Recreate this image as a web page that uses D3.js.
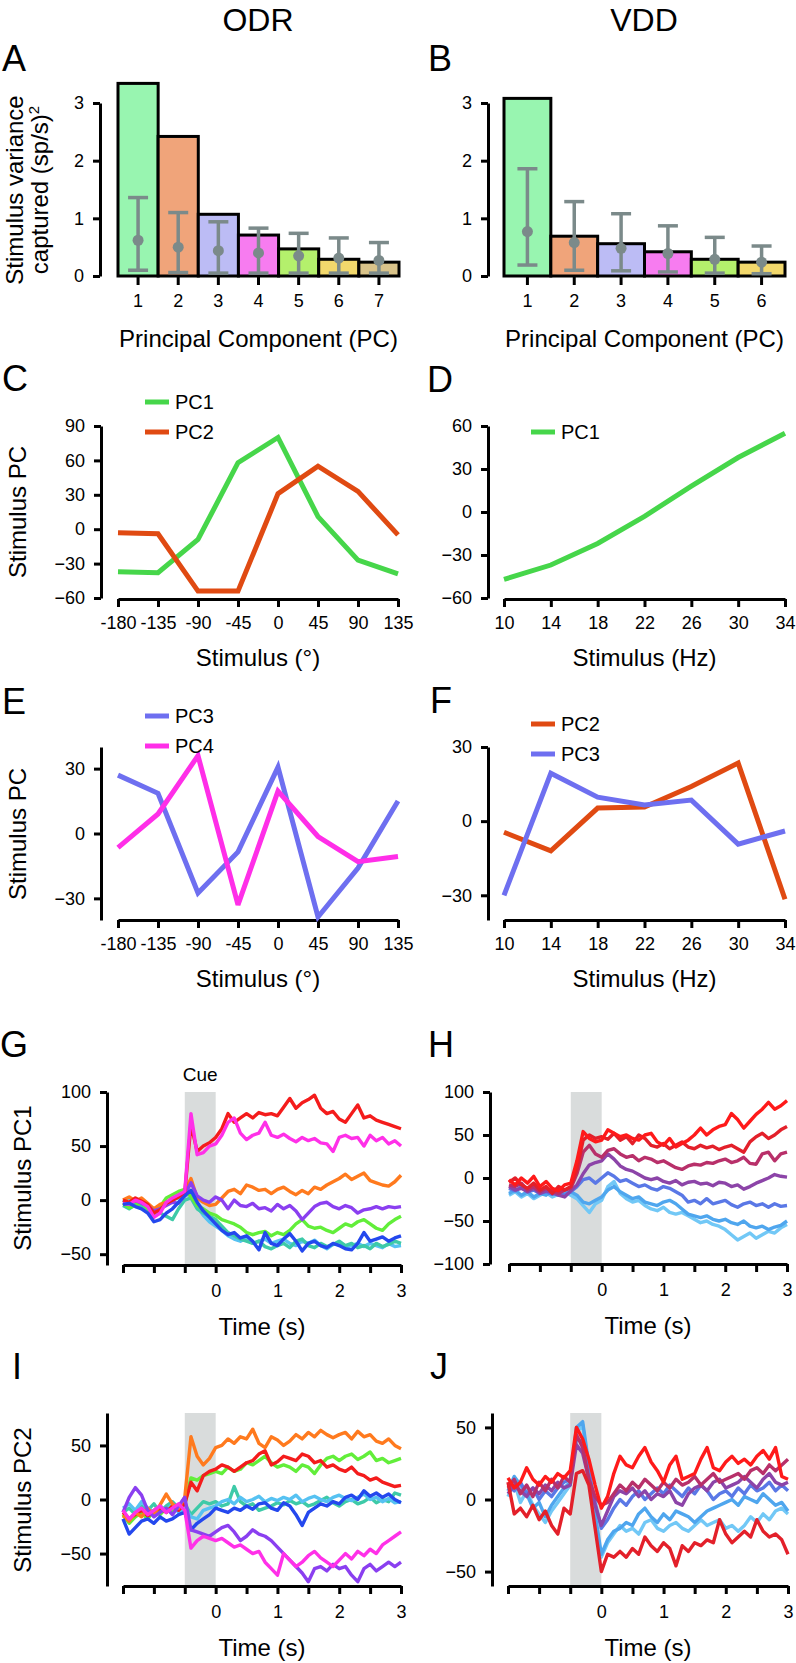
<!DOCTYPE html>
<html><head><meta charset="utf-8">
<script src="https://cdn.jsdelivr.net/npm/d3@7"></script>
<style>body{margin:0;background:#fff;} svg{display:block;}</style>
</head><body><svg id="c" width="796" height="1663"></svg>
<script>
// ---------- DATA ----------
const barColors = ["#98f5b0","#f0a47a","#bcbcf5","#f77cf0","#b4f06c","#f2d86c","#d9c38a"];
const pcA = [1,2,3,4,5,6,7];
const varA = [3.34,2.42,1.07,0.71,0.47,0.29,0.24];
const nullMeanA = [0.62,0.50,0.44,0.40,0.35,0.31,0.27];
const nullLoA = [0.10,0.06,0.05,0.05,0.05,0.05,0.05];
const nullHiA = [1.36,1.10,0.94,0.83,0.74,0.66,0.58];
const pcB = [1,2,3,4,5,6];
const varB = [3.08,0.69,0.56,0.42,0.29,0.24];
const nullMeanB = [0.77,0.58,0.48,0.39,0.29,0.24];
const nullLoB = [0.19,0.10,0.09,0.07,0.05,0.04];
const nullHiB = [1.86,1.29,1.08,0.87,0.67,0.52];

const odrStim = [-180,-135,-90,-45,0,45,90,135];
const odrPC1 = [-37,-38,-9,58,80,11,-27,-39];
const odrPC2 = [-3,-4,-54,-54,31,55,33,-5];
const odrPC3 = [27,18.6,-27.5,-8.5,30.7,-38.6,-16,15];
const odrPC4 = [-6.5,9,36,-33,19.6,-1.4,-13,-10.6];
const vddStim = [10,14,18,22,26,30,34];
const vddPC1 = [-47,-37,-22,-3,18,38,55];
const vddPC2 = [-4.5,-12,5.3,5.7,14,23.5,-31.6];
const vddPC3 = [-30,19.4,9.7,6.5,8.5,-9.3,-4];

const time = [-1.5,-1.4,-1.3,-1.2,-1.1,-1.0,-0.9,-0.8,-0.7,-0.6,-0.5,-0.4,-0.3,-0.2,-0.1,0,0.1,0.2,0.3,0.4,0.5,0.6,0.7,0.8,0.9,1.0,1.1,1.2,1.3,1.4,1.5,1.6,1.7,1.8,1.9,2.0,2.1,2.2,2.3,2.4,2.5,2.6,2.7,2.8,2.9,3.0];
const timeTicks = [-1.5,-1,-0.5,0,0.5,1,1.5,2,2.5,3];
const cueWindow = [-0.5,0];

// G: ODR stimulus PC1 trajectories
const gLightBlue = [-2,2,-3,0,-6,-12,-8,-4,0,2,4,6,-6,-14,-20,-24,-28,-33,-36,-38,-35,-40,-38,-36,-40,-38,-36,-40,-42,-38,-40,-37,-42,-45,-41,-40,-44,-42,-40,-43,-40,-42,-44,-40,-43,-42];
const gTeal = [-5,-8,-4,-6,-10,-14,-12,-15,-18,-8,0,2,-8,-12,-15,-18,-24,-30,-33,-36,-38,-40,-38,-43,-45,-42,-40,-44,-38,-36,-42,-44,-40,-43,-41,-38,-42,-40,-44,-42,-45,-40,-43,-41,-38,-40];
const gGreen = [-3,-7,-5,-2,-8,-12,-6,2,5,8,10,3,-5,-8,-12,-14,-18,-20,-22,-25,-30,-32,-30,-29,-33,-30,-32,-28,-22,-18,-24,-26,-25,-28,-30,-26,-22,-24,-20,-18,-22,-26,-28,-22,-18,-15];
const gOrange = [0,3,-1,2,-3,-8,-4,-2,1,3,8,20,2,-2,-5,-4,2,8,10,6,14,12,9,10,6,10,12,8,5,9,6,12,10,14,17,20,24,19,22,25,18,16,14,13,17,23];
const gPurple = [-2,-4,0,-3,-5,-10,-8,-5,-2,-3,5,16,4,0,-2,3,0,-8,0,-5,-6,-3,-8,-7,-10,-4,-8,-5,-10,-18,-12,-6,-3,-2,-6,-8,-5,-7,-12,-9,-8,-6,-8,-6,-7,-6];
const gRed = [0,-2,2,-1,-4,-12,-9,-3,0,3,7,70,45,50,53,58,66,80,72,76,80,76,81,79,80,78,86,94,85,90,93,97,85,80,82,75,72,80,88,76,78,74,72,70,68,66];
const gMagenta = [-3,-4,0,-2,-6,-16,-12,-2,2,5,8,80,42,44,50,52,60,72,76,62,56,60,62,72,60,58,61,57,54,58,55,57,53,52,45,58,60,57,58,50,60,55,58,52,55,50];
const gBlue = [-4,-3,-6,-8,-12,-20,-18,-12,-8,-2,4,9,-2,-10,-16,-22,-28,-32,-30,-35,-33,-38,-46,-30,-40,-42,-36,-31,-38,-47,-40,-38,-42,-44,-40,-42,-45,-46,-40,-30,-38,-36,-34,-38,-35,-33];

// H: VDD stimulus PC1 trajectories
const h1 = [-2,-8,0,-6,2,-10,-4,-12,-15,-8,-6,20,54,46,42,44,56,52,48,50,46,44,50,52,42,38,46,36,40,44,50,58,50,56,60,62,75,68,58,66,74,80,88,80,84,90];
const h2 = [-5,0,-8,-12,-6,-14,-10,-18,-10,-14,-10,10,44,50,46,48,45,52,44,48,40,50,46,38,36,40,34,38,42,36,34,38,35,37,33,36,38,34,30,42,48,52,46,50,56,60];
const h3 = [-8,-10,-6,-14,-10,-16,-12,-15,-18,-14,-12,5,30,38,28,24,32,34,28,24,26,20,24,22,18,20,16,12,10,14,16,15,18,17,20,22,18,20,24,17,16,28,30,20,28,30];
const h4 = [-10,-14,-12,-16,-12,-18,-15,-17,-20,-22,-15,-8,5,15,18,20,28,22,14,10,8,4,0,-2,0,-4,-6,-3,-8,-5,-4,-7,-6,-9,-5,-6,-10,-8,-13,-10,-6,-3,0,4,2,1];
const h5 = [-12,-15,-10,-16,-14,-18,-16,-19,-17,-20,-16,-10,-2,0,-6,0,6,2,-4,-2,-6,-10,-8,-12,-14,-10,-12,-16,-20,-28,-26,-30,-24,-30,-28,-26,-31,-34,-30,-28,-32,-30,-34,-30,-33,-32];
const h6 = [-18,-14,-20,-16,-22,-18,-20,-15,-20,-18,-16,-20,-28,-30,-26,-22,-14,-10,-16,-20,-24,-22,-28,-30,-32,-28,-26,-30,-36,-42,-44,-46,-44,-48,-50,-48,-52,-54,-50,-56,-58,-56,-60,-57,-55,-50];
const h7 = [-20,-16,-22,-18,-24,-20,-17,-22,-19,-16,-20,-24,-32,-40,-30,-26,-10,-4,-18,-24,-28,-26,-32,-36,-38,-34,-40,-42,-40,-44,-48,-52,-50,-54,-56,-60,-66,-72,-68,-64,-70,-66,-62,-64,-58,-54];

// I: ODR stimulus PC2 trajectories
const iOrange = [-15,-20,-12,-16,-8,-14,-5,5,-4,-8,2,58,40,32,38,48,50,56,52,58,56,65,52,48,58,55,50,54,60,56,62,58,64,60,57,60,62,56,63,58,60,54,52,56,50,47];
const iRed = [-12,-18,-14,-10,-15,-12,-8,-12,-6,-10,-4,16,8,22,26,28,32,30,26,30,34,36,42,45,32,35,40,38,36,42,40,34,36,30,32,28,26,30,24,22,18,20,16,14,12,13];
const iGreen = [-14,-22,-16,-12,-18,-10,-14,-8,-12,-6,-4,20,18,22,24,26,24,30,26,28,34,32,36,40,34,30,32,30,26,32,30,24,32,38,40,36,40,42,37,40,44,36,38,34,36,38];
const iTeal = [-12,-8,-14,-6,-10,-4,-12,-6,-2,-8,-4,-14,-8,-2,-4,-2,-6,-4,12,-2,-6,-4,-10,-8,-6,-3,-5,-1,-4,-2,-6,-4,-1,2,-3,-6,-2,0,-4,-2,2,-3,0,-2,6,4];
const iLightBlue = [-8,-4,-10,-2,-8,-12,-6,-10,-4,-12,-8,-16,-18,-10,-8,-6,-2,0,-4,2,-2,0,3,-2,1,-1,2,0,4,-2,1,3,0,-2,2,4,1,-1,2,5,0,2,-2,1,-3,-2];
const iBlue = [-18,-32,-26,-20,-18,-22,-16,-20,-18,-14,-12,-28,-22,-18,-14,-8,-10,-12,-8,-10,-6,-9,-4,-3,-8,-10,-3,-6,-14,-24,-12,-8,-4,-6,-2,-4,2,4,0,8,3,6,2,5,0,-3];
const iMagenta = [-10,-18,-12,-8,-14,-10,-6,-12,-8,-4,-10,-45,-38,-34,-36,-38,-36,-40,-44,-42,-46,-50,-48,-58,-64,-70,-50,-56,-62,-58,-52,-48,-54,-58,-62,-56,-50,-55,-48,-52,-46,-50,-42,-38,-34,-30];
const iPurple = [-12,2,11,4,-10,-16,-12,-8,-14,-6,2,-28,-30,-32,-34,-30,-26,-24,-30,-38,-34,-28,-32,-34,-38,-44,-50,-56,-62,-68,-76,-64,-62,-66,-60,-64,-62,-70,-76,-64,-60,-66,-62,-58,-62,-58];

// J: VDD stimulus PC2 trajectories
const jLightB = [2,12,-2,6,-4,-10,-16,-8,-2,4,10,46,52,20,-14,-40,-30,-24,-18,-22,-20,-24,-16,-14,-20,-22,-18,-16,-20,-22,-18,-14,-18,-16,-14,-20,-18,-22,-18,-12,-16,-10,-14,-8,-6,-10];
const jLightA = [6,16,10,4,-6,-2,-12,-4,2,8,12,50,54,24,-10,-38,-28,-22,-20,-16,-18,-10,-6,-12,-16,-10,-14,-8,-10,-12,-16,-12,-8,-6,-4,-2,0,-4,2,0,-2,4,0,-4,-2,-8];
const jBlue = [10,6,12,4,8,0,6,2,8,12,14,42,40,18,-2,-20,-14,-6,0,-4,2,6,0,4,8,4,10,6,2,8,4,10,6,0,4,6,2,8,4,10,6,8,12,6,10,6];
const jPurple = [4,10,6,2,8,4,10,6,12,8,10,38,32,14,-4,-18,-8,2,6,4,8,2,6,0,4,2,6,-2,-4,4,8,10,6,12,14,8,10,12,16,12,8,14,18,12,10,12];
const jCrimson = [8,14,4,10,2,12,6,14,8,16,12,45,36,14,2,-4,-2,4,10,6,12,8,14,10,6,12,8,14,10,12,16,10,14,18,12,14,16,18,14,20,22,18,24,20,24,28];
const jRedB = [12,-10,-6,-12,-4,-14,-8,-18,-24,-6,-10,18,20,10,-20,-50,-38,-40,-36,-40,-34,-38,-26,-32,-36,-30,-34,-46,-32,-36,-30,-32,-28,-30,-14,-24,-30,-26,-22,-26,-14,-22,-26,-24,-28,-38];
const jRedA = [15,8,12,22,14,10,16,12,18,15,20,50,42,28,10,-6,2,18,30,24,22,30,36,26,20,12,24,30,14,16,18,28,36,22,20,26,30,25,28,24,30,34,28,36,16,14];

// ---------- DRAWING ----------
const F = '"Liberation Sans", Arial, Helvetica, sans-serif';
const svg = d3.select('#c');
const AX = 3;
const TICK_FS = 18;
const minusFmt = d => d < 0 ? '\u2212' + Math.abs(d) : String(d);

function styleAxis(g){
  g.attr('font-family', F).attr('font-size', TICK_FS);
  g.selectAll('path,line').attr('stroke','#000').attr('stroke-width',AX);
  g.selectAll('text').attr('fill','#000');
}
function yAxis(scale, x, ticks){
  const g = svg.append('g').attr('transform',`translate(${x},0)`)
    .call(d3.axisLeft(scale).tickValues(ticks).tickFormat(minusFmt).tickSize(7).tickPadding(9).tickSizeOuter(0));
  styleAxis(g); return g;
}
function xAxis(scale, y, ticks, fmt, pad){
  const g = svg.append('g').attr('transform',`translate(0,${y})`)
    .call(d3.axisBottom(scale).tickValues(ticks).tickFormat(fmt).tickSize(8).tickPadding(pad).tickSizeOuter(0));
  styleAxis(g); return g;
}
function text(x, y, s, size, anchor, rot){
  const t = svg.append('text').attr('font-family',F).attr('font-size',size).attr('fill','#000')
    .attr('text-anchor',anchor||'start');
  if (rot) t.attr('transform',`translate(${x},${y}) rotate(-90)`);
  else t.attr('x',x).attr('y',y);
  t.text(s); return t;
}

// titles and letters
text(258, 31, 'ODR', 32, 'middle');
text(644, 31, 'VDD', 32, 'middle');
const letters = [['A',2,71],['B',428,71],['C',2,391],['D',427,392],['E',2,714],['F',430,713],['G',0,1057],['H',428,1057],['I',12,1379],['J',430,1379]];
letters.forEach(l => text(l[1], l[2], l[0], 36, 'start'));

// ---- bar panels ----
function barPanel(pcs, vals, mean, lo, hi, x0, x1, axisX){
  const xb = d3.scaleBand().domain(pcs).range([x0, x1]).padding(0);
  const y = d3.scaleLinear().domain([0,3]).range([276,103]);
  yAxis(y, axisX, [0,1,2,3]);
  const xa = xAxis(xb, 277, pcs, d => d, 9);
  xa.select('.domain').remove();
  svg.append('g').selectAll('rect').data(pcs).join('rect')
    .attr('x', d => xb(d)).attr('width', xb.bandwidth())
    .attr('y', (d,i) => y(vals[i])).attr('height', (d,i) => y(0) - y(vals[i]))
    .attr('fill', (d,i) => barColors[i]).attr('stroke','#000').attr('stroke-width',3);
  const eg = svg.append('g').attr('stroke','#7b8a8a').attr('stroke-width',3.5);
  pcs.forEach((d,i) => {
    const cx = xb(d) + xb.bandwidth()/2;
    eg.append('line').attr('x1',cx).attr('x2',cx).attr('y1',y(lo[i])).attr('y2',y(hi[i]));
    eg.append('line').attr('x1',cx-10).attr('x2',cx+10).attr('y1',y(lo[i])).attr('y2',y(lo[i]));
    eg.append('line').attr('x1',cx-10).attr('x2',cx+10).attr('y1',y(hi[i])).attr('y2',y(hi[i]));
    svg.append('circle').attr('cx',cx).attr('cy',y(mean[i])).attr('r',5.5).attr('fill','#7b8a8a');
  });
  text((x0+x1)/2, 347, 'Principal Component (PC)', 24, 'middle');
}
barPanel(pcA, varA, nullMeanA, nullLoA, nullHiA, 118, 399, 100);
barPanel(pcB, varB, nullMeanB, nullLoB, nullHiB, 504, 785, 488);
text(23, 190, 'Stimulus variance', 24, 'middle', true);
const yl2 = text(48, 190, 'captured (sp/s)', 24, 'middle', true);
yl2.append('tspan').attr('font-size',15).attr('dy',-9).text('2');

// ---- tuning panels ----
const cGreen = '#46d64a', cOrange = '#e04a12', cViolet = '#6e6ff0', cMagenta = '#ff2ee8';
function tuningPanel(stim, xr, yDom, yr, yTicks, axisX, axisY, series, legend, xTitle, xFmt){
  const x = d3.scaleLinear().domain([stim[0], stim[stim.length-1]]).range(xr);
  const y = d3.scaleLinear().domain(yDom).range(yr);
  yAxis(y, axisX, yTicks);
  xAxis(x, axisY, stim, xFmt, 9);
  const line = d3.line().x((d,i) => x(stim[i])).y(d => y(d));
  series.forEach(s => svg.append('path').attr('d', line(s.v)).attr('fill','none')
    .attr('stroke', s.c).attr('stroke-width',5).attr('stroke-miterlimit',3));
  legend.items.forEach((it,k) => {
    const ly = legend.y + k*30;
    svg.append('line').attr('x1',legend.x).attr('x2',legend.x+24).attr('y1',ly).attr('y2',ly)
      .attr('stroke', it.c).attr('stroke-width',5);
    text(legend.x+30, ly+7, it.t, 20, 'start');
  });
  text((xr[0]+xr[1])/2, axisY+67, xTitle, 24, 'middle');
}
const degFmt = d => String(d);
tuningPanel(odrStim, [118,398], [-60,90], [598,426], [-60,-30,0,30,60,90], 101, 599,
  [{v:odrPC1,c:cGreen},{v:odrPC2,c:cOrange}],
  {x:145, y:402, items:[{t:'PC1',c:cGreen},{t:'PC2',c:cOrange}]}, 'Stimulus (\u00b0)', degFmt);
tuningPanel(vddStim, [504,785], [-60,60], [598,426], [-60,-30,0,30,60], 488, 599,
  [{v:vddPC1,c:cGreen}],
  {x:531, y:432, items:[{t:'PC1',c:cGreen}]}, 'Stimulus (Hz)', degFmt);
tuningPanel(odrStim, [118,398], [-40,40], [920,747], [-30,0,30], 101, 920,
  [{v:odrPC3,c:cViolet},{v:odrPC4,c:cMagenta}],
  {x:145, y:716, items:[{t:'PC3',c:cViolet},{t:'PC4',c:cMagenta}]}, 'Stimulus (\u00b0)', degFmt);
tuningPanel(vddStim, [504,785], [-40,30], [920,747], [-30,0,30], 488, 920,
  [{v:vddPC2,c:cOrange},{v:vddPC3,c:cViolet}],
  {x:531, y:724, items:[{t:'PC2',c:cOrange},{t:'PC3',c:cViolet}]}, 'Stimulus (Hz)', degFmt);
text(26, 512, 'Stimulus PC', 24, 'middle', true);
text(26, 834, 'Stimulus PC', 24, 'middle', true);

// ---- trajectory panels ----
const tFmt = d => (d >= 0 && Number.isInteger(d)) ? String(d) : '';
function trajPanel(xr, yDom, yr, yTicks, axisX, series){
  const x = d3.scaleLinear().domain([time[0], time[time.length-1]]).range(xr);
  const y = d3.scaleLinear().domain(yDom).range(yr);
  svg.append('rect').attr('x', x(cueWindow[0])).attr('width', x(cueWindow[1]) - x(cueWindow[0]))
    .attr('y', yr[1]).attr('height', yr[0]-yr[1]).attr('fill','#d9dcdc');
  yAxis(y, axisX, yTicks);
  xAxis(x, yr[0], timeTicks, tFmt, 11);
  const line = d3.line().x((d,i) => x(time[i])).y(d => y(d));
  series.forEach(s => svg.append('path').attr('d', line(s.v)).attr('fill','none')
    .attr('stroke', s.c).attr('stroke-width',3.4).attr('stroke-linejoin','round'));
  text((xr[0]+xr[1])/2, yr[0]+70, 'Time (s)', 24, 'middle');
  return x;
}
const oRed='#f41c1c', oOrange='#ff7a1e', oGreen='#62ee3a', oTeal='#3ecaa8', oLight='#56c2f2', oBlue='#2448ee', oPurple='#8a3ff0', oMag='#ff30e8';
const vC = ['#ff1a1a','#e3202a','#b8306a','#8c44a8','#5a78e6','#4fa6ee','#72c8f6'];

const xG = trajPanel([123,401], [-60,100], [1265,1092], [-50,0,50,100], 107,
  [{v:gLightBlue,c:oLight},{v:gTeal,c:oTeal},{v:gGreen,c:oGreen},{v:gOrange,c:oOrange},
   {v:gPurple,c:oPurple},{v:gRed,c:oRed},{v:gMagenta,c:oMag},{v:gBlue,c:oBlue}]);
text(xG(-0.25), 1081, 'Cue', 19, 'middle');
trajPanel([509,787], [-100,100], [1264,1092], [-100,-50,0,50,100], 490,
  [{v:h7,c:vC[6]},{v:h6,c:vC[5]},{v:h5,c:vC[4]},{v:h4,c:vC[3]},{v:h3,c:vC[2]},{v:h2,c:vC[1]},{v:h1,c:vC[0]}]);
trajPanel([123,401], [-80,80], [1586,1413], [-50,0,50], 107,
  [{v:iTeal,c:oTeal},{v:iLightBlue,c:oLight},{v:iGreen,c:oGreen},{v:iRed,c:oRed},
   {v:iOrange,c:oOrange},{v:iBlue,c:oBlue},{v:iPurple,c:oPurple},{v:iMagenta,c:oMag}]);
trajPanel([508,788], [-60,60], [1586,1413], [-50,0,50], 492,
  [{v:jLightB,c:vC[6]},{v:jLightA,c:vC[5]},{v:jBlue,c:vC[4]},{v:jPurple,c:vC[3]},
   {v:jCrimson,c:vC[2]},{v:jRedB,c:vC[1]},{v:jRedA,c:vC[0]}]);
text(31, 1178, 'Stimulus PC1', 24, 'middle', true);
text(31, 1500, 'Stimulus PC2', 24, 'middle', true);
</script></body></html>
